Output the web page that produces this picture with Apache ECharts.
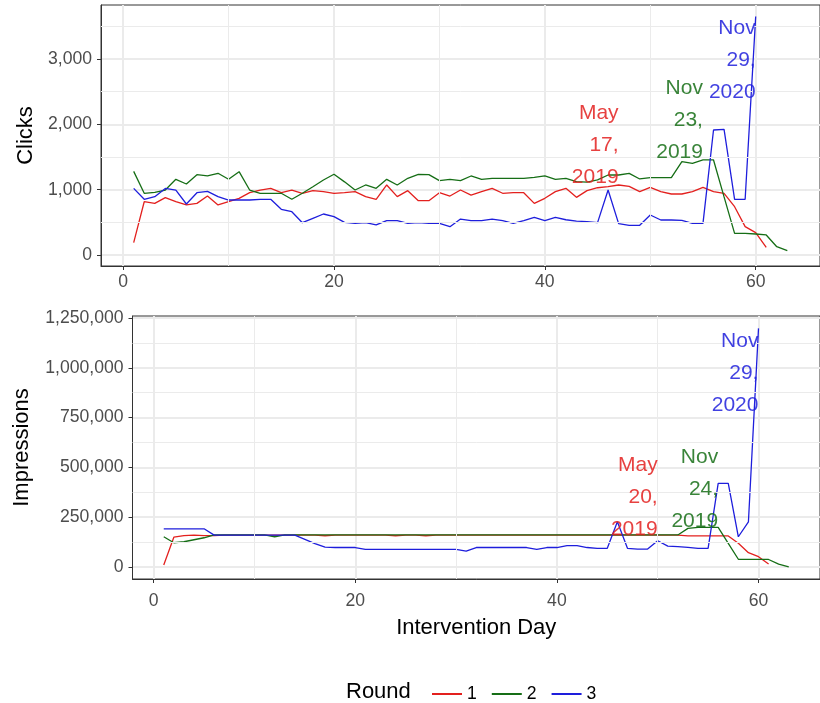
<!DOCTYPE html>
<html>
<head>
<meta charset="utf-8">
<script src="https://cdn.jsdelivr.net/npm/echarts@6/dist/echarts.min.js"></script>
<style>
html,body{margin:0;padding:0;background:#fff;}
#chart{width:820px;height:703px;}
</style>
</head>
<body>
<div id="chart"></div>
<script>
// ---- data ----
const roundNames = ['1', '2', '3'];
const roundColors = ['#E3201E', '#166E16', '#1E1EDC'];

const clicksRound1 = [190, 816, 791, 878, 816, 766, 791, 903, 766, 816, 868, 954, 995, 1020, 954, 995, 945, 985, 970, 945, 954, 970, 893, 853, 1072, 893, 985, 832, 832, 954, 903, 995, 918, 970, 1021, 945, 954, 954, 791, 868, 970, 1021, 883, 985, 1030, 1046, 1072, 1050, 970, 1036, 970, 934, 934, 970, 1036, 970, 944, 740, 434, 342, 117];
const clicksRound2 = [1280, 945, 960, 995, 1159, 1087, 1230, 1210, 1251, 1159, 1276, 995, 945, 945, 945, 853, 945, 1046, 1149, 1236, 1120, 995, 1072, 1021, 1159, 1072, 1174, 1234, 1230, 1138, 1159, 1138, 1210, 1159, 1174, 1174, 1174, 1174, 1189, 1210, 1159, 1174, 1122, 1115, 1150, 1225, 1225, 1250, 1164, 1184, 1184, 1184, 1429, 1404, 1455, 1455, 890, 332, 332, 322, 307, 127, 66];
const clicksRound3 = [1020, 853, 893, 1020, 995, 781, 954, 975, 893, 842, 842, 842, 853, 853, 700, 663, 495, 562, 628, 587, 500, 485, 495, 460, 526, 526, 485, 495, 485, 485, 434, 551, 526, 526, 551, 526, 485, 526, 577, 526, 577, 540, 520, 511, 496, 995, 480, 455, 455, 613, 536, 536, 530, 485, 485, 1914, 1924, 853, 853, 3650];

const imprRound1 = [10000, 150000, 158000, 160000, 158000, 158000, 160000, 160000, 160000, 160000, 160000, 160000, 160000, 160000, 160000, 160000, 157000, 160000, 160000, 160000, 160000, 160000, 160000, 157000, 160000, 160000, 157000, 160000, 160000, 160000, 160000, 160000, 160000, 160000, 160000, 160000, 160000, 160000, 160000, 160000, 160000, 160000, 160000, 160000, 160000, 160000, 160000, 160000, 160000, 160000, 160000, 160000, 156000, 156000, 156000, 156000, 156000, 119000, 72000, 52000, 15000];
const imprRound2 = [152000, 122000, 127000, 137000, 147000, 161000, 161000, 161000, 161000, 161000, 161000, 152000, 161000, 161000, 161000, 161000, 161000, 161000, 161000, 161000, 161000, 161000, 161000, 161000, 161000, 161000, 161000, 161000, 161000, 161000, 161000, 161000, 161000, 161000, 161000, 161000, 161000, 161000, 161000, 161000, 161000, 161000, 161000, 161000, 161000, 161000, 161000, 161000, 161000, 161000, 161000, 161000, 194000, 199000, 199000, 199000, 119000, 39000, 38000, 38000, 38000, 15000, 1000];
const imprRound3 = [192000, 192000, 192000, 192000, 192000, 160000, 160000, 160000, 160000, 160000, 160000, 160000, 160000, 160000, 139000, 118000, 100000, 98000, 98000, 98000, 89000, 89000, 89000, 89000, 89000, 89000, 89000, 89000, 89000, 89000, 80000, 98000, 98000, 98000, 98000, 98000, 98000, 89000, 98000, 98000, 108000, 108000, 98000, 94000, 94000, 227000, 94000, 90000, 90000, 132000, 105000, 102000, 99000, 94000, 94000, 420000, 420000, 152000, 227000, 1198000];

const xTicks = [0, 20, 40, 60];
const xMinor = [10, 30, 50];
const clickTicks = [0, 1000, 2000, 3000];
const clickMinor = [500, 1500, 2500, 3500];
const imprTicks = [0, 250000, 500000, 750000, 1000000, 1250000];
const imprMinor = [125000, 375000, 625000, 875000, 1125000];

// annotation labels: [text, day, value] per round
const clickNotes = [['May\n17,\n2019', 47, 1685], ['Nov\n23,\n2019', 55, 2067], ['Nov\n29,\n2020', 60, 2986]];
const imprNotes = [['May\n20,\n2019', 50, 351000], ['Nov\n24,\n2019', 56, 392000], ['Nov\n29,\n2020', 60, 974000]];

// ---- chart ----
const FONT = '"Liberation Sans", Arial, sans-serif';
const chart = echarts.init(document.getElementById('chart'), null, {renderer: 'canvas'});
const fmt = v => Number(v).toLocaleString('en-US');
const toPairs = arr => arr.map((v, i) => [i + 1, v]);

function xAxisCfg(gridIndex, withName, labelMargin) {
  const c = {
    type: 'value', gridIndex, min: -2.1, max: 66.1,
    axisLine: {show: true, onZero: false, lineStyle: {color: '#333', width: 1}},
    axisTick: {show: true, length: 4, lineStyle: {color: '#333'}, customValues: xTicks},
    axisLabel: {show: true, customValues: xTicks, color: '#4D4D4D', fontSize: 17.6, fontFamily: FONT, margin: labelMargin},
    splitLine: {show: true, lineStyle: {color: '#EBEBEB', width: 2}}
  };
  if (withName) {
    c.name = 'Intervention Day';
    c.nameLocation = 'middle';
    c.nameGap = 38;
    c.nameTextStyle = {fontSize: 22, color: '#000', fontFamily: FONT};
  }
  return c;
}
function yAxisCfg(gridIndex, min, max, ticks, name, gap) {
  return {
    type: 'value', gridIndex, min, max,
    name, nameLocation: 'middle', nameGap: gap,
    nameTextStyle: {fontSize: 22, color: '#000', fontFamily: FONT},
    axisLine: {show: true, onZero: false, lineStyle: {color: '#333', width: 1}},
    axisTick: {show: true, length: 4, lineStyle: {color: '#333'}, customValues: ticks},
    axisLabel: {show: true, customValues: ticks, color: '#4D4D4D', fontSize: 17.6, fontFamily: FONT, margin: 9, formatter: fmt},
    splitLine: {show: true, lineStyle: {color: '#EBEBEB', width: 2}}
  };
}
function minorSeries(gi, xs, ys) {
  return {
    type: 'line', xAxisIndex: gi, yAxisIndex: gi, data: [], z: 1, silent: true,
    markLine: {
      silent: true, symbol: 'none', label: {show: false}, animation: false,
      lineStyle: {color: '#EBEBEB', width: 1, type: 'solid'},
      emphasis: {disabled: true},
      data: xs.map(v => ({xAxis: v})).concat(ys.map(v => ({yAxis: v})))
    }
  };
}
function dataSeries(gi, idx, arr, note) {
  return {
    name: roundNames[idx], type: 'line', xAxisIndex: gi, yAxisIndex: gi,
    data: toPairs(arr), showSymbol: false, symbol: 'none', z: 2 + idx,
    lineStyle: {color: roundColors[idx], width: 1.3},
    itemStyle: {color: roundColors[idx]},
    emphasis: {disabled: true},
    markPoint: {
      symbol: 'circle', symbolSize: 0.1, itemStyle: {color: 'rgba(0,0,0,0)'}, animation: false,
      label: {show: true, position: 'left', distance: 0, formatter: note[0], color: roundColors[idx],
              opacity: 0.85, fontSize: 21, lineHeight: 32, fontFamily: FONT, align: 'right'},
      data: [{coord: [note[1], note[2]]}]
    }
  };
}

const option = {
  animation: false,
  backgroundColor: '#fff',
  textStyle: {fontFamily: FONT},
  grid: [
    {left: 101, top: 5, width: 723, height: 261, show: true, borderColor: '#333', borderWidth: 1, backgroundColor: '#fff'},
    {left: 132.5, top: 316, width: 698, height: 263, show: true, borderColor: '#333', borderWidth: 1, backgroundColor: '#fff'}
  ],
  xAxis: [xAxisCfg(0, false, 7), xAxisCfg(1, true, 13)],
  yAxis: [
    yAxisCfg(0, -168, 3827, clickTicks, 'Clicks', 55),
    yAxisCfg(1, -60000, 1260000, imprTicks, 'Impressions', 100)
  ],
  title: {text: 'Round', left: 341, top: 676, textStyle: {fontSize: 22, fontWeight: 'normal', color: '#000', fontFamily: FONT}},
  legend: {
    data: roundNames, left: 427, top: 680, icon: 'rect', itemWidth: 30, itemHeight: 2, itemGap: 15,
    textStyle: {fontSize: 17.6, color: '#000', fontFamily: FONT}
  },
  series: [
    minorSeries(0, xMinor, clickMinor),
    minorSeries(1, xMinor, imprMinor),
    dataSeries(0, 0, clicksRound1, clickNotes[0]),
    dataSeries(0, 1, clicksRound2, clickNotes[1]),
    dataSeries(0, 2, clicksRound3, clickNotes[2]),
    dataSeries(1, 0, imprRound1, imprNotes[0]),
    dataSeries(1, 1, imprRound2, imprNotes[1]),
    dataSeries(1, 2, imprRound3, imprNotes[2])
  ]
};
chart.setOption(option);
</script>
</body>
</html>
